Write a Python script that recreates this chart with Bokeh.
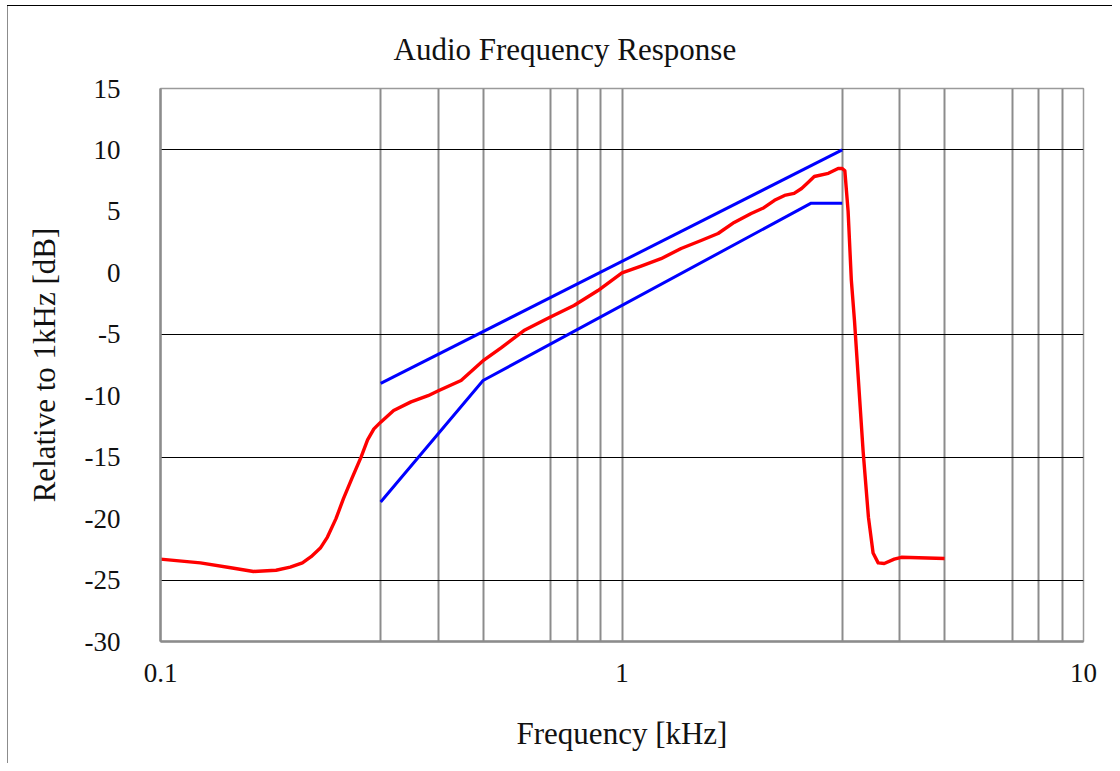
from bokeh.plotting import figure
from bokeh.models import FixedTicker, CustomJSTickFormatter, Range1d
from bokeh.embed import file_html
from bokeh.resources import INLINE

# ---- data ----
resp_freq = [0.100, 0.122, 0.142, 0.159, 0.178, 0.191, 0.203, 0.212, 0.222, 0.230,
             0.240, 0.249, 0.260, 0.272, 0.281, 0.290, 0.300, 0.320, 0.349, 0.380,
             0.400, 0.448, 0.502, 0.547, 0.613, 0.691, 0.787, 0.887, 1.00, 1.10,
             1.215, 1.343, 1.484, 1.615, 1.75, 1.905, 2.03, 2.14, 2.25, 2.36,
             2.45, 2.53, 2.61, 2.80, 2.94, 3.00, 3.04, 3.09, 3.14, 3.19,
             3.33, 3.42, 3.50, 3.59, 3.70, 3.89, 4.03, 5.0]
resp_db = [-23.3, -23.6, -24.0, -24.3, -24.2, -23.95, -23.6, -23.1, -22.4, -21.5,
           -20.0, -18.4, -16.7, -15.0, -13.6, -12.7, -12.15, -11.2, -10.5, -10.0,
           -9.6, -8.76, -7.1, -6.1, -4.7, -3.7, -2.66, -1.44, 0.0, 0.55,
           1.15, 1.98, 2.63, 3.2, 4.1, 4.83, 5.3, 5.9, 6.3, 6.46,
           6.86, 7.35, 7.84, 8.1, 8.49, 8.5, 8.3, 5.0, -0.6, -3.9,
           -14.5, -19.9, -22.8, -23.6, -23.65, -23.3, -23.15, -23.25]

upper_freq = [0.3, 3.0]
upper_db = [-9.0, 10.0]

lower_freq = [0.3, 0.5, 2.57, 3.0]
lower_db = [-18.65, -8.76, 5.67, 5.67]

x_ticks = [0.1, 1, 10]
y_ticks = [15, 10, 5, 0, -5, -10, -15, -20, -25, -30]
x_grid = [0.3, 0.4, 0.5, 0.7, 0.8, 0.9, 1, 3, 4, 5, 7, 8, 9]
y_grid = [10, -5, -15, -25]

title_text = "Audio Frequency Response"
x_label = "Frequency [kHz]"
y_label = "Relative to 1kHz [dB]"

FONT = "Liberation Serif"
TXT = "#111111"

p = figure(width=1112, height=763, x_axis_type="log",
           x_range=Range1d(0.1, 10), y_range=Range1d(-30, 15),
           output_backend="svg", toolbar_location=None,
           min_border_left=160, min_border_right=29,
           min_border_top=88, min_border_bottom=122,
           background_fill_color="white", border_fill_color=None)

# chart-area border (only its top and left edges are visible in the reference)
p.styles = {
    "background-color": "#ffffff",
    "background-image": ("linear-gradient(#000000, #000000), "
                         "linear-gradient(#8c8c8c, #8c8c8c)"),
    "background-size": "100% 1px, 1px 100%",
    "background-position": "7px 5px, 7px 5px",
    "background-repeat": "no-repeat, no-repeat",
}

# title
p.title.text = title_text
p.title.align = "left"
p.title.offset = 233
p.title.text_font = FONT
p.title.text_font_size = "31px"
p.title.text_font_style = "normal"
p.title.text_color = TXT
p.title.standoff = 43

# frame
p.outline_line_color = "#9a9a9a"
p.outline_line_width = 1.5

# grids
p.xgrid.ticker = FixedTicker(ticks=x_grid)
p.xgrid.grid_line_color = "#8c8c8c"
p.xgrid.grid_line_width = 2
p.ygrid.ticker = FixedTicker(ticks=y_grid)
p.ygrid.grid_line_color = "#000000"
p.ygrid.grid_line_width = 1

# axes
for ax in (p.xaxis[0], p.yaxis[0]):
    ax.axis_line_color = "#8c8c8c"
    ax.axis_line_width = 2.5
    ax.major_tick_line_color = None
    ax.minor_tick_line_color = None
    ax.major_tick_out = 0
    ax.major_tick_in = 0
    ax.minor_tick_out = 0
    ax.minor_tick_in = 0
    ax.major_label_text_font = FONT
    ax.major_label_text_font_size = "27px"
    ax.major_label_text_color = TXT
    ax.axis_label_text_font = FONT
    ax.axis_label_text_font_size = "31px"
    ax.axis_label_text_font_style = "normal"
    ax.axis_label_text_color = TXT

p.xaxis.ticker = FixedTicker(ticks=x_ticks)
p.xaxis.formatter = CustomJSTickFormatter(code="return String(tick);")
p.xaxis.major_label_standoff = 22
p.xaxis.axis_label = x_label
p.xaxis.axis_label_standoff = 31

p.yaxis.ticker = FixedTicker(ticks=y_ticks)
p.yaxis.formatter = CustomJSTickFormatter(code="return String(tick);")
p.yaxis.major_label_standoff = 40
p.yaxis.axis_label = y_label
p.yaxis.axis_label_standoff = 20

# lines
p.line(upper_freq, upper_db, line_color="#0000ff", line_width=3)
p.line(lower_freq, lower_db, line_color="#0000ff", line_width=3)
p.line(resp_freq, resp_db, line_color="#ff0000", line_width=3.4, line_join="round")

open("out.html", "w").write(file_html(p, INLINE))
